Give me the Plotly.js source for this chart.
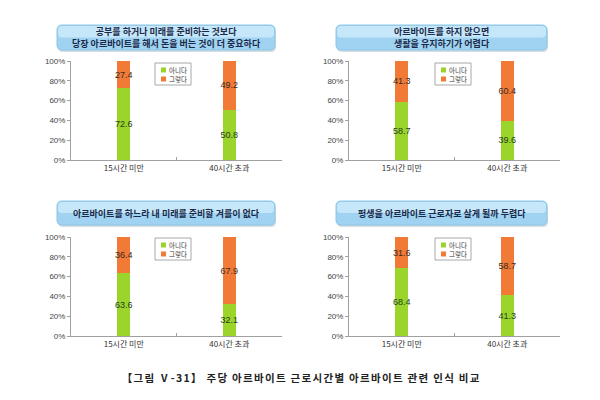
<!DOCTYPE html>
<html>
<head>
<meta charset="utf-8">
<script src="https://cdn.plot.ly/plotly-3.0.1.min.js"></script>
<style>
html,body{margin:0;padding:0;background:#fff;}
#chart{width:600px;height:400px;}
.caption-text text{letter-spacing:1.3px;}
</style>
</head>
<body>
<div id="chart"></div>
<script>
// ---- data ----
const categories = ['15시간 미만', '40시간 초과'];
const seriesNames = ['아니다', '그렇다'];
const panelTitles = [
  '공부를 하거나 미래를 준비하는 것보다<br>당장 아르바이트를 해서 돈을 버는 것이 더 중요하다',
  '아르바이트를 하지 않으면<br>생활을 유지하기가 어렵다',
  '아르바이트를 하느라 내 미래를 준비할 겨를이 없다',
  '평생을 아르바이트 근로자로 살게 될까 두렵다'
];
const noValues1 = [72.6, 50.8];
const yesValues1 = [27.4, 49.2];
const noValues2 = [58.7, 39.6];
const yesValues2 = [41.3, 60.4];
const noValues3 = [63.6, 32.1];
const yesValues3 = [36.4, 67.9];
const noValues4 = [68.4, 41.3];
const yesValues4 = [31.6, 58.7];
const yTickSuffix = '%';
const caption = '【그림 Ⅴ-31】 주당 아르바이트 근로시간별 아르바이트 관련 인식 비교';

const noSeries = [noValues1, noValues2, noValues3, noValues4];
const yesSeries = [yesValues1, yesValues2, yesValues3, yesValues4];

// ---- layout helpers (pixel -> paper) ----
const W = 600, H = 400;
const px = v => v / W;
const py = v => 1 - v / H;

const FONT = 'Noto Sans CJK KR, Noto Sans, sans-serif';
const NUMFONT = 'Liberation Sans, Arial, sans-serif';
const GREEN = '#9bd52b';
const ORANGE = '#f07a36';
const seriesColors = [GREEN, ORANGE];

// panel geometry in pixels
const panels = [
  {x0: 71, x1: 282, yTop: 61, yBot: 160, box: [57, 25, 275, 50], leg: [155, 63]},
  {x0: 349, x1: 560, yTop: 61, yBot: 160, box: [336, 25, 547, 50], leg: [435, 63]},
  {x0: 71, x1: 282, yTop: 237, yBot: 336, box: [57, 201, 275, 225], leg: [155, 238]},
  {x0: 349, x1: 560, yTop: 237, yBot: 336, box: [336, 201, 547, 225], leg: [435, 238]}
];

function roundRect(x0, y0, x1, y1, r) {
  const rx = r / W, ry = r / H;
  const X0 = px(x0), X1 = px(x1), Y0 = py(y0), Y1 = py(y1);
  return `M ${X0 + rx},${Y0} L ${X1 - rx},${Y0} Q ${X1},${Y0} ${X1},${Y0 - ry} ` +
         `L ${X1},${Y1 + ry} Q ${X1},${Y1} ${X1 - rx},${Y1} L ${X0 + rx},${Y1} ` +
         `Q ${X0},${Y1} ${X0},${Y1 + ry} L ${X0},${Y0 - ry} Q ${X0},${Y0} ${X0 + rx},${Y0} Z`;
}

const traces = [];
const layout = {
  width: W, height: H,
  margin: {l: 0, r: 0, t: 0, b: 0},
  paper_bgcolor: '#ffffff', plot_bgcolor: '#ffffff',
  font: {family: FONT, size: 8, color: '#333'},
  barmode: 'stack',
  bargap: 0.88,
  showlegend: false,
  shapes: [],
  annotations: []
};

panels.forEach((p, i) => {
  const n = i + 1;
  const xa = 'x' + (n === 1 ? '' : n);
  const ya = 'y' + (n === 1 ? '' : n);
  traces.push({
    type: 'bar', name: seriesNames[0], x: categories, y: noSeries[i],
    xaxis: xa, yaxis: ya,
    marker: {color: GREEN},
    text: noSeries[i].map(v => v.toFixed(1)),
    textposition: 'inside', insidetextanchor: 'middle', textangle: 0,
    constraintext: 'none',
    textfont: {family: NUMFONT, size: 9, color: '#24401a'},
    hoverinfo: 'skip'
  });
  traces.push({
    type: 'bar', name: seriesNames[1], x: categories, y: yesSeries[i],
    xaxis: xa, yaxis: ya,
    marker: {color: ORANGE},
    text: yesSeries[i].map(v => v.toFixed(1)),
    textposition: 'inside', insidetextanchor: 'middle', textangle: 0,
    constraintext: 'none',
    textfont: {family: NUMFONT, size: 9, color: '#3a2a20'},
    hoverinfo: 'skip'
  });

  layout['xaxis' + (n === 1 ? '' : n)] = {
    domain: [px(p.x0), px(p.x1)], anchor: ya,
    type: 'category', range: [-0.5, 1.5],
    showline: true, linecolor: '#a0a0a0', linewidth: 1,
    ticks: 'inside', ticklen: 3, tickcolor: '#a0a0a0', tickson: 'boundaries',
    showgrid: false, zeroline: false,
    tickfont: {family: FONT, size: 8, color: '#333'}, fixedrange: true
  };
  layout['yaxis' + (n === 1 ? '' : n)] = {
    domain: [py(p.yBot), py(p.yTop)], anchor: xa,
    range: [0, 100], dtick: 20, ticksuffix: yTickSuffix,
    showline: true, linecolor: '#a0a0a0', linewidth: 1,
    ticks: 'outside', ticklen: 3, tickcolor: '#a0a0a0',
    showgrid: false, zeroline: false,
    tickfont: {family: NUMFONT, size: 8, color: '#444'}, fixedrange: true
  };

  // legend box (drawn manually for compact size)
  const [lx, ly] = p.leg;
  layout.shapes.push({
    type: 'rect', xref: 'paper', yref: 'paper',
    x0: px(lx), x1: px(lx + 36), y0: py(ly), y1: py(ly + 22),
    fillcolor: '#ffffff', line: {color: '#a8a8a8', width: 1}
  });
  seriesNames.forEach((name, k) => {
    const cy = ly + 7 + k * 9;
    layout.shapes.push({
      type: 'rect', xref: 'paper', yref: 'paper',
      x0: px(lx + 6), x1: px(lx + 11), y0: py(cy - 2.5), y1: py(cy + 2.5),
      fillcolor: seriesColors[k], line: {width: 0}
    });
    layout.annotations.push({
      xref: 'paper', yref: 'paper', x: px(lx + 13), y: py(cy),
      xanchor: 'left', yanchor: 'middle', showarrow: false, borderpad: 0,
      text: name, font: {family: FONT, size: 6.5, color: '#333'}
    });
  });

  // title box
  const [bx0, by0, bx1, by1] = p.box;
  layout.shapes.push({
    type: 'path', xref: 'paper', yref: 'paper', layer: 'below',
    path: roundRect(bx0 + 1, by0 + 2, bx1 + 1, by1 + 2, 5),
    fillcolor: '#d6dde3', line: {width: 0}
  });
  layout.shapes.push({
    type: 'path', xref: 'paper', yref: 'paper', layer: 'below',
    path: roundRect(bx0, by0, bx1, by1, 5),
    fillcolor: '#9fd3f1', line: {color: '#8cc6e6', width: 1}
  });
  layout.shapes.push({
    type: 'path', xref: 'paper', yref: 'paper', layer: 'below',
    path: roundRect(bx0 + 1, by0 + 1, bx1 - 1, (by0 + by1) / 2, 4),
    fillcolor: '#c6e7f9', line: {width: 0}
  });
  layout.annotations.push({
    xref: 'paper', yref: 'paper',
    x: px((bx0 + bx1) / 2), y: py((by0 + by1) / 2),
    xanchor: 'center', yanchor: 'middle', showarrow: false,
    text: '<b>' + panelTitles[i] + '</b>',
    font: {family: FONT, size: 9, color: '#1c2a4a'},
    align: 'center'
  });
});

const captionIndex = layout.annotations.length;
layout.annotations.push({
  xref: 'paper', yref: 'paper', x: px(301), y: py(377),
  xanchor: 'center', yanchor: 'middle', showarrow: false,
  text: '<b>' + caption + '</b>',
  font: {family: FONT, size: 10.5, color: '#222'}
});

Plotly.newPlot('chart', traces, layout, {displayModeBar: false, staticPlot: true}).then(gd => {
  const g = gd.querySelector('g.annotation[data-index="' + captionIndex + '"]');
  if (g) g.classList.add('caption-text');
});
</script>
</body>
</html>
